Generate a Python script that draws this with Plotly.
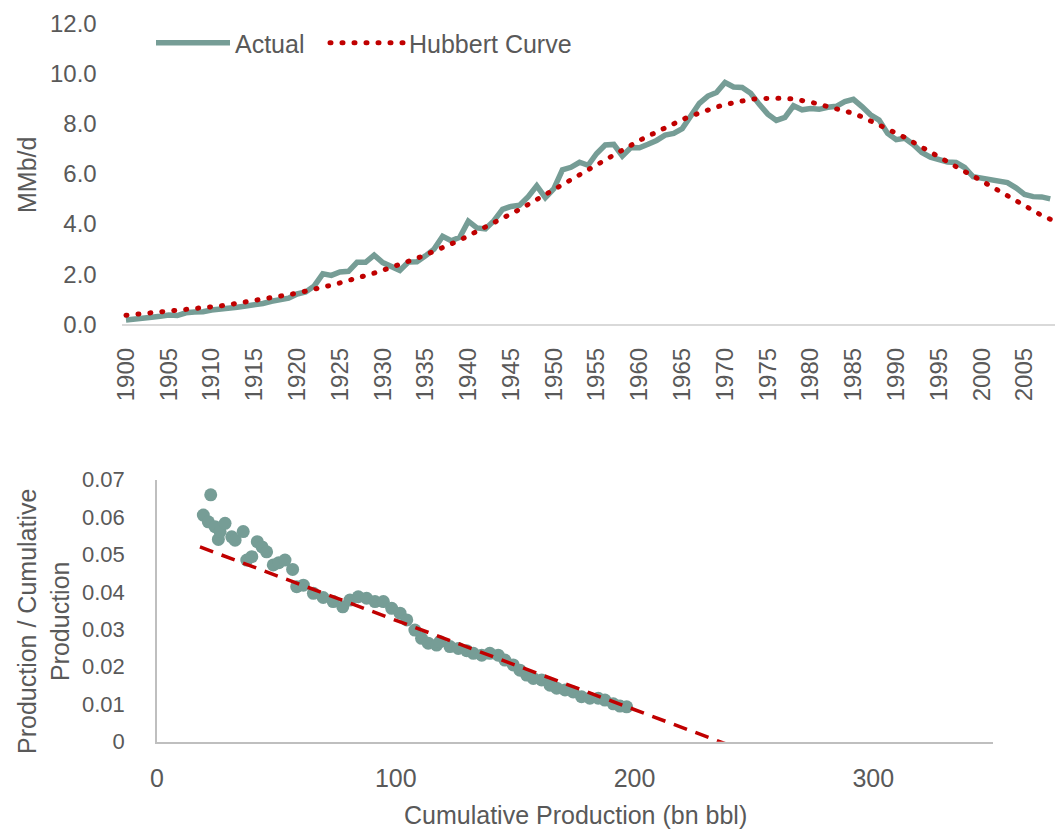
import plotly.graph_objects as go

# ---------------- data ----------------
years = list(range(1900, 2009))
actual = [0.17,0.19,0.24,0.28,0.32,0.37,0.35,0.46,0.49,0.50,
          0.57,0.60,0.61,0.68,0.73,0.77,0.83,0.92,0.97,1.04,
          1.21,1.29,1.53,2.01,1.95,2.09,2.11,2.47,2.47,2.76,
          2.46,2.33,2.15,2.48,2.49,2.73,3.00,3.51,3.33,3.47,
          4.11,3.84,3.80,4.13,4.58,4.70,4.75,5.09,5.52,5.05,
          5.41,6.16,6.26,6.46,6.34,6.81,7.15,7.17,6.71,7.05,
          7.04,7.18,7.33,7.54,7.61,7.80,8.30,8.81,9.10,9.24,
          9.64,9.46,9.44,9.21,8.77,8.38,8.13,8.25,8.71,8.55,
          8.60,8.57,8.65,8.69,8.88,8.97,8.68,8.35,8.14,7.61,
          7.36,7.42,7.17,6.85,6.66,6.56,6.47,6.45,6.25,5.88,
          5.82,5.80,5.74,5.65,5.44,5.18,5.09,5.08,5.00]
hubbert = [0.36,0.39,0.42,0.45,0.48,0.51,0.54,0.58,0.62,0.66,
           0.69,0.73,0.78,0.83,0.88,0.94,1.00,1.06,1.12,1.18,
           1.24,1.31,1.39,1.47,1.56,1.65,1.74,1.84,1.94,2.04,
           2.15,2.26,2.38,2.50,2.63,2.77,2.91,3.06,3.21,3.35,
           3.53,3.70,3.86,4.03,4.21,4.39,4.58,4.78,4.97,5.15,
           5.35,5.56,5.76,5.96,6.16,6.37,6.56,6.75,6.94,7.15,
           7.33,7.50,7.67,7.85,8.01,8.16,8.30,8.43,8.56,8.66,
           8.76,8.84,8.92,8.97,9.00,9.02,9.03,9.01,8.98,8.93,
           8.86,8.77,8.68,8.62,8.52,8.41,8.27,8.12,7.95,7.79,
           7.62,7.45,7.25,7.07,6.90,6.70,6.50,6.30,6.09,5.91,
           5.71,5.51,5.31,5.11,4.90,4.71,4.53,4.34,4.19]
year_ticks = list(range(1900, 2006, 5))

cum_prod = [19.4,21.5,22.5,24.3,25.7,26.4,28.5,31.3,32.7,36.1,
            37.6,39.7,42.0,44.0,45.9,48.7,51.0,53.6,56.8,58.5,
            61.3,65.5,69.6,73.8,77.8,80.8,84.3,87.8,91.3,94.8,
            98.3,101.8,104.6,108.0,110.8,113.6,117.1,118.5,122.7,126.2,
            129.7,132.5,136.0,139.4,142.9,145.7,149.2,152.0,154.8,157.6,
            161.1,164.6,167.4,170.9,174.3,177.8,181.3,184.8,187.6,191.1,
            193.9,196.7]
prod_ratio = [0.0605,0.0587,0.0659,0.0574,0.0540,0.0561,0.0583,0.0547,0.0538,0.0561,
              0.0485,0.0494,0.0534,0.0520,0.0507,0.0472,0.0478,0.0485,0.0460,0.0414,
              0.0418,0.0396,0.0385,0.0374,0.0360,0.0378,0.0387,0.0383,0.0374,0.0374,
              0.0356,0.0343,0.0325,0.0298,0.0276,0.0263,0.0258,0.0267,0.0254,0.0249,
              0.0243,0.0236,0.0231,0.0236,0.0231,0.0218,0.0205,0.0191,0.0178,0.0169,
              0.0165,0.0151,0.0143,0.0138,0.0133,0.0120,0.0116,0.0116,0.0111,0.0101,
              0.0095,0.0093]
trend_q = [18, 240]
trend_ratio = [0.0520, -0.0010]

# ---------------- style ----------------
W, H = 1057, 832
GREEN = "#769D96"
RED = "#C00000"
TXT = "#595959"
FONT = "Liberation Sans, Arial, sans-serif"

fig = go.Figure()
fig.add_trace(go.Scatter(x=years, y=actual, mode="lines", name="Actual",
                         line=dict(color=GREEN, width=5.5), xaxis="x", yaxis="y",
                         legend="legend"))
fig.add_trace(go.Scatter(x=years, y=hubbert, mode="lines", name="Hubbert Curve",
                         line=dict(color=RED, width=5, dash="1px,11px"), xaxis="x", yaxis="y",
                         legend="legend2"))
fig.add_trace(go.Scatter(x=cum_prod, y=prod_ratio, mode="markers", showlegend=False,
                         marker=dict(color=GREEN, size=13, line=dict(width=0)),
                         xaxis="x2", yaxis="y2"))
fig.add_trace(go.Scatter(x=trend_q, y=trend_ratio, mode="lines", showlegend=False,
                         line=dict(color=RED, width=3.5, dash="14px,9px"),
                         xaxis="x2", yaxis="y2"))

def px_x(p):
    return p / W

def px_y(p):
    return 1 - p / H

legend_common = dict(orientation="h", yanchor="middle", xanchor="left",
                     font=dict(size=25, color=TXT), bgcolor="rgba(0,0,0,0)",
                     itemwidth=74)

fig.update_layout(
    width=W, height=H, autosize=False,
    margin=dict(l=0, r=0, t=0, b=0, pad=0, autoexpand=False),
    paper_bgcolor="white", plot_bgcolor="white",
    font=dict(family=FONT, color=TXT, size=24),
    showlegend=True,
    legend=dict(x=px_x(151), y=px_y(43), **legend_common),
    legend2=dict(x=px_x(325), y=px_y(43), **legend_common),
    xaxis=dict(domain=[px_x(121.7), px_x(1054.5)], anchor="y", automargin=False,
               range=[1899.5, 2008.5], tickvals=year_ticks, tickangle=-90,
               showgrid=False, zeroline=False, showline=True, linecolor="#D9D9D9", linewidth=2,
               ticks="", tickfont=dict(size=24, color=TXT), ticklabelstandoff=12),
    yaxis=dict(domain=[px_y(324.3), px_y(23.3)], anchor="x", automargin=False,
               range=[0, 12], dtick=2, tick0=0, tickformat=".1f",
               showgrid=False, zeroline=False, showline=False, ticks="",
               tickfont=dict(size=24, color=TXT), ticklabelstandoff=24),
    xaxis2=dict(domain=[px_x(157), px_x(992.7)], anchor="y2", automargin=False,
                range=[0, 350], tickvals=[0, 100, 200, 300],
                showgrid=False, zeroline=False, showline=True, linecolor="#BFBFBF", linewidth=1.5,
                ticks="", tickfont=dict(size=25, color=TXT), ticklabelstandoff=14),
    yaxis2=dict(domain=[px_y(741.7), px_y(479.5)], anchor="x2", automargin=False,
                range=[0, 0.07], dtick=0.01, tick0=0,
                showgrid=False, zeroline=False, showline=True, linecolor="#BFBFBF", linewidth=1.5,
                ticks="", tickfont=dict(size=22, color=TXT), ticklabelstandoff=26),
    annotations=[
        dict(text="MMb/d", x=px_x(27), y=px_y(175), xref="paper", yref="paper",
             textangle=-90, showarrow=False, font=dict(size=25, color=TXT),
             xanchor="center", yanchor="middle"),
        dict(text="Production / Cumulative<br>Production", x=px_x(43), y=px_y(622),
             xref="paper", yref="paper", textangle=-90, showarrow=False,
             font=dict(size=25, color=TXT), xanchor="center", yanchor="middle"),
        dict(text="Cumulative Production (bn bbl)", x=px_x(575), y=px_y(815),
             xref="paper", yref="paper", showarrow=False,
             font=dict(size=25, color=TXT), xanchor="center", yanchor="middle"),
    ],
)

post = """
var gd = document.getElementById('{plot_id}');
function fixCaps(){
  gd.querySelectorAll('path').forEach(function(p){
    var da = (p.style.strokeDasharray || '').replace(/\\s/g, '');
    if (da === '1px,11px') { p.style.strokeLinecap = 'round'; }
  });
}
fixCaps();
gd.on('plotly_afterplot', fixCaps);
"""
fig.write_html("out.html", post_script=post)
